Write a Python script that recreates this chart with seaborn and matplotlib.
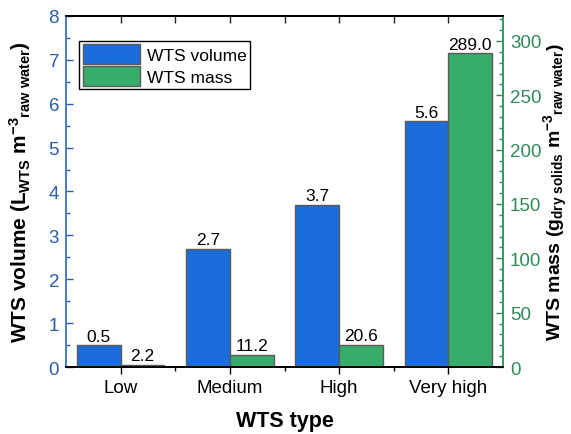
import matplotlib
matplotlib.use("Agg")
import matplotlib.pyplot as plt
from matplotlib.ticker import MultipleLocator, FixedLocator
from matplotlib.patches import Patch
import pandas as pd
import seaborn as sns

# Data
wts_types = ["Low", "Medium", "High", "Very high"]
wts_volume = [0.5, 2.7, 3.7, 5.6]        # L_WTS per m3 raw water
wts_mass = [2.2, 11.2, 20.6, 289.0]      # g dry solids per m3 raw water
series_names = ["WTS volume", "WTS mass"]

BLUE = "#1b6ddc"
GREEN = "#37ad6b"
BLUE_TXT = "#2a5cad"
GREEN_TXT = "#2e8b57"
EDGE = "#5a5a5a"

sns.set_theme(style="white")
plt.rcParams["font.family"] = ["Liberation Sans", "DejaVu Sans"]
plt.rcParams["text.color"] = "black"
plt.rcParams["axes.labelcolor"] = "black"
plt.rcParams["mathtext.fontset"] = "custom"
plt.rcParams["mathtext.rm"] = "Liberation Sans"
plt.rcParams["mathtext.bf"] = "Liberation Sans:bold"
plt.rcParams["mathtext.it"] = "Liberation Sans:italic"

vol_df = pd.DataFrame({"type": wts_types, "value": wts_volume, "series": series_names[0]})
mass_df = pd.DataFrame({"type": wts_types, "value": wts_mass, "series": series_names[1]})
palette = {series_names[0]: BLUE, series_names[1]: GREEN}

fig, ax1 = plt.subplots(figsize=(5.71, 4.35), dpi=100)
fig.subplots_adjust(left=0.1156, right=0.881, top=0.961, bottom=0.154)
ax2 = ax1.twinx()

sns.barplot(data=vol_df, x="type", y="value", hue="series", hue_order=series_names,
            order=wts_types, palette=palette, saturation=1, errorbar=None, dodge=True,
            edgecolor=EDGE, linewidth=1, legend=False, ax=ax1)
sns.barplot(data=mass_df, x="type", y="value", hue="series", hue_order=series_names,
            order=wts_types, palette=palette, saturation=1, errorbar=None, dodge=True,
            edgecolor=EDGE, linewidth=1, legend=False, ax=ax2)

for c in ax1.containers:
    ax1.bar_label(c, fmt="%.1f", fontsize=12.5, padding=1, color="black")
for c in ax2.containers:
    ax2.bar_label(c, fmt="%.1f", fontsize=12.5, padding=1, color="black")

ax1.set_xlim(-0.5, 3.5)
ax1.set_ylim(0, 8)
ax2.set_ylim(0, 323)

# Left axis (volume)
ax1.yaxis.set_major_locator(MultipleLocator(1))
ax1.yaxis.set_minor_locator(MultipleLocator(0.5))
ax1.tick_params(axis="y", which="both", direction="in", colors=BLUE_TXT,
                labelsize=13.5, left=True, right=False)
ax1.tick_params(axis="y", which="major", length=5, width=1, pad=5)
ax1.tick_params(axis="y", which="minor", length=3, width=1)
ax1.set_ylabel(r"WTS volume (L$_{\mathbf{WTS}}$ m$^{\mathbf{-3}}$$_{\mathbf{raw\ water}}$)",
               fontsize=15, fontweight="bold", color="black")
ax1.yaxis.set_label_coords(-0.075, 0.5)

# Right axis (mass)
ax2.yaxis.set_major_locator(MultipleLocator(50))
ax2.yaxis.set_minor_locator(MultipleLocator(10))
ax2.tick_params(axis="y", which="both", direction="in", colors=GREEN_TXT,
                labelsize=13.5, right=True, left=False)
ax2.tick_params(axis="y", which="major", length=5, width=1, pad=5)
ax2.tick_params(axis="y", which="minor", length=3, width=1)
ax2.set_ylabel(r"WTS mass (g$_{\mathbf{dry\ solids}}$ m$^{\mathbf{-3}}$$_{\mathbf{raw\ water}}$)",
               fontsize=14, fontweight="bold", color="black")
ax2.yaxis.set_label_coords(1.088, 0.5)

# Bottom / top x axis
ax1.xaxis.set_minor_locator(FixedLocator([0.5, 1.5, 2.5]))
ax1.tick_params(axis="x", which="both", direction="out", bottom=True, top=False,
                labelsize=13.5, colors="black")
ax1.tick_params(axis="x", which="major", length=5, width=1)
ax1.tick_params(axis="x", which="minor", length=3, width=1)
ax1.set_xlabel("WTS type", fontsize=15.5, fontweight="bold", labelpad=10)

top = ax1.secondary_xaxis("top")
top.set_xticks([0, 1, 2, 3])
top.xaxis.set_minor_locator(FixedLocator([0.5, 1.5, 2.5]))
top.tick_params(axis="x", which="both", direction="in", labeltop=False, length=5, width=1)
top.spines["top"].set_visible(False)

# Spines
for ax in (ax1, ax2):
    for s in ax.spines.values():
        s.set_linewidth(1.3)
    ax.spines["top"].set_color("black")
    ax.spines["bottom"].set_color("black")
    ax.spines["left"].set_color("#4a7dc9")
    ax.spines["right"].set_color("#3a9a62")

# Legend
handles = [Patch(facecolor=BLUE, edgecolor=EDGE, linewidth=1, label=series_names[0]),
           Patch(facecolor=GREEN, edgecolor=EDGE, linewidth=1, label=series_names[1])]
leg = ax2.legend(handles=handles, loc="upper left", bbox_to_anchor=(0.03, 0.93),
                 fontsize=12.5, frameon=True, fancybox=False, edgecolor="black",
                 handlelength=3.3, handleheight=1.4, handletextpad=0.4,
                 borderpad=0.2, labelspacing=0.1, borderaxespad=0)
leg.get_frame().set_linewidth(1)
leg.get_frame().set_alpha(1)

fig.savefig("out.png", dpi=100)
